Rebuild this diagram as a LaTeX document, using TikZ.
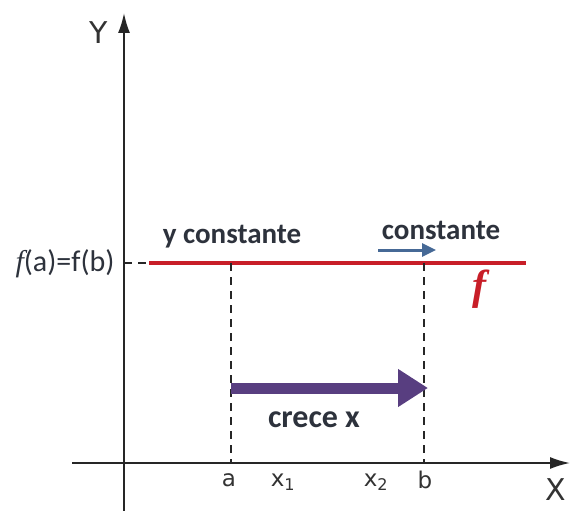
\documentclass[tikz,border=0pt]{standalone}
\usepackage{fontspec}
\setmainfont{Carlito}
\newfontfamily\axfont{DejaVu Sans}
\newfontfamily\serfont{Liberation Serif}
\usetikzlibrary{arrows.meta}
\definecolor{redf}{RGB}{200,30,40}
\definecolor{bluea}{RGB}{70,105,150}
\definecolor{purp}{RGB}{88,62,128}
\definecolor{txt}{RGB}{45,50,60}
\begin{document}
\begin{tikzpicture}[x=1pt,y=-1pt,
  axis/.style={line width=1.8pt,draw=black!85,-{Latex[length=20pt,width=12pt]}},
  guide/.style={line width=1.1pt,dash pattern=on 8pt off 6pt,draw=black!85},
  lbl/.style={font=\bfseries\fontsize{29}{31}\selectfont,text=txt,inner sep=0pt},
  axl/.style={font=\axfont\fontsize{23}{25}\selectfont,text=black!80,inner sep=0pt}]
\useasboundingbox (0,0) rectangle (570,511);
\coordinate (yb) at (124,511);
\coordinate (yt) at (124,13);
\coordinate (xl) at (72,463);
\coordinate (xr) at (570,463);
\draw[axis] (yb) -- (yt);
\draw[axis] (xl) -- (xr);
\node[axl,font=\axfont\fontsize{30}{32}\selectfont] (Y) at (99,33) {Y};
\node[axl,font=\axfont\fontsize{30}{32}\selectfont] (X) at (556,490) {X};
% red line
\coordinate (r0) at (124,263);
\coordinate (r1) at (149,263);
\coordinate (r2) at (526,263);
\draw[guide] (r0) -- (r1);
\draw[redf,line width=3.6pt] (r1) -- (r2);
% dashed guides
\coordinate (at) at (231,263);
\coordinate (ab) at (231,463);
\coordinate (bt) at (424,263);
\coordinate (bb) at (424,463);
\draw[guide] (at) -- (ab);
\draw[guide] (bt) -- (bb);
% purple arrow
\coordinate (p0) at (231,388);
\coordinate (p1) at (428,388);
\draw[purp,line width=11pt,-{Triangle[length=30pt,width=36pt]}] (p0) -- (p1);
% blue arrow
\coordinate (b0) at (378,250);
\coordinate (b1) at (436,250);
\draw[bluea,line width=3pt,-{Triangle[length=14pt,width=13pt]}] (b0) -- (b1);
% labels
\node[inner sep=0pt,font=\fontsize{30}{32}\selectfont,text=txt] (fab) at (65,264) {{\serfont\itshape f}(a)=f(b)};
\node[lbl] (yc) at (232,237) {y constante};
\node[lbl] (c) at (441,230) {constante};
\node[text=redf,inner sep=0pt,font=\serfont\fontsize{42}{44}\selectfont\bfseries\itshape] (f) at (479,289) {f};
\node[lbl,font=\bfseries\fontsize{32}{34}\selectfont] (cx) at (314,420) {crece x};
\node[axl] (a) at (229,480) {a};
\node[axl] (x1) at (283,482) {x\textsubscript{1}};
\node[axl] (x2) at (376,482) {x\textsubscript{2}};
\node[axl] (b) at (425,480) {b};
\end{tikzpicture}
\end{document}
